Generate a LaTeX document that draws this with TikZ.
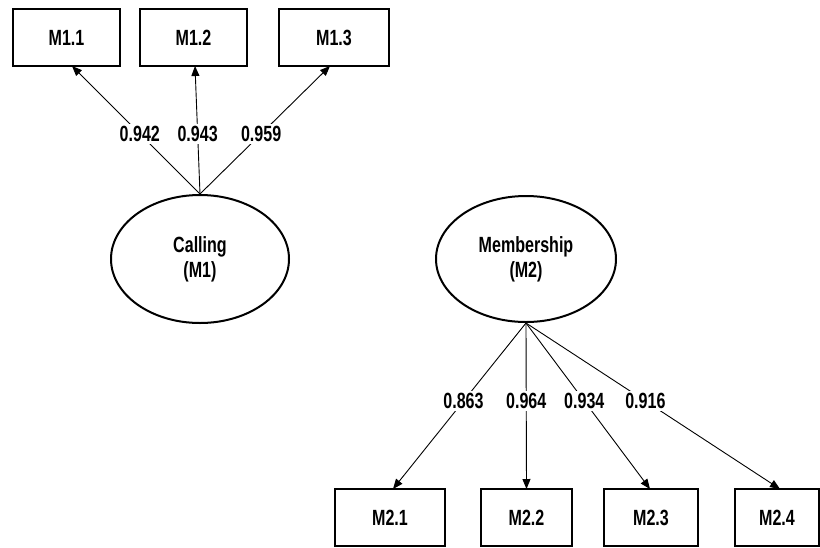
\documentclass[tikz,border=0pt]{standalone}
\usepackage{fontspec}
\setmainfont{Liberation Sans}[FakeStretch=0.73]
\usetikzlibrary{arrows.meta,shapes.geometric}
\begin{document}
\begin{tikzpicture}[x=1pt,y=-1pt,
  font=\fontsize{22}{25}\selectfont\bfseries,
  box/.style={draw, line width=2pt, inner sep=0pt, minimum height=57pt},
  lat/.style={draw, ellipse, line width=2pt, inner sep=0pt, align=center},
  path/.style={line width=0.9pt, -{Triangle[length=10pt,width=8pt]}},
  lab/.style={fill=white, inner sep=2pt}]
\useasboundingbox (0,0) rectangle (820,547);
% top indicators
\node[box, minimum width=107pt] (m11) at (66.5,37.5) {M1.1};
\node[box, minimum width=107pt] (m12) at (193.5,37.5) {M1.2};
\node[box, minimum width=110pt] (m13) at (334,37.5) {M1.3};
% latent variables
\node[lat, minimum width=178pt, minimum height=128pt] (c1) at (200,259) {Calling\\(M1)};
\node[lat, minimum width=180pt, minimum height=126pt] (c2) at (526,259) {Membership\\(M2)};
% bottom indicators
\node[box, minimum width=110pt] (m21) at (390,517.5) {M2.1};
\node[box, minimum width=91pt] (m22) at (526.5,517.5) {M2.2};
\node[box, minimum width=94pt] (m23) at (651,517.5) {M2.3};
\node[box, minimum width=84pt] (m24) at (777,517.5) {M2.4};
% loadings M1
\draw[path] (c1.north) -- node[lab, pos=0.47] {0.942} ([xshift=5.5pt,yshift=1pt]m11.south);
\draw[path] (c1.north) -- node[lab, pos=0.47] {0.943} ([xshift=1.5pt,yshift=1pt]m12.south);
\draw[path] (c1.north) -- node[lab, pos=0.47] {0.959} ([xshift=-4pt,yshift=1pt]m13.south);
% loadings M2
\draw[path] (c2.south) -- node[lab, pos=0.47] {0.863} ([xshift=3pt,yshift=-1pt]m21.north);
\draw[path] (c2.south) -- node[lab, pos=0.47] {0.964} ([yshift=-1pt]m22.north);
\draw[path] (c2.south) -- node[lab, pos=0.47] {0.934} ([xshift=-1pt,yshift=-1pt]m23.north);
\draw[path] (c2.south) -- node[lab, pos=0.47] {0.916} ([xshift=3pt,yshift=-1pt]m24.north);
\end{tikzpicture}
\end{document}
